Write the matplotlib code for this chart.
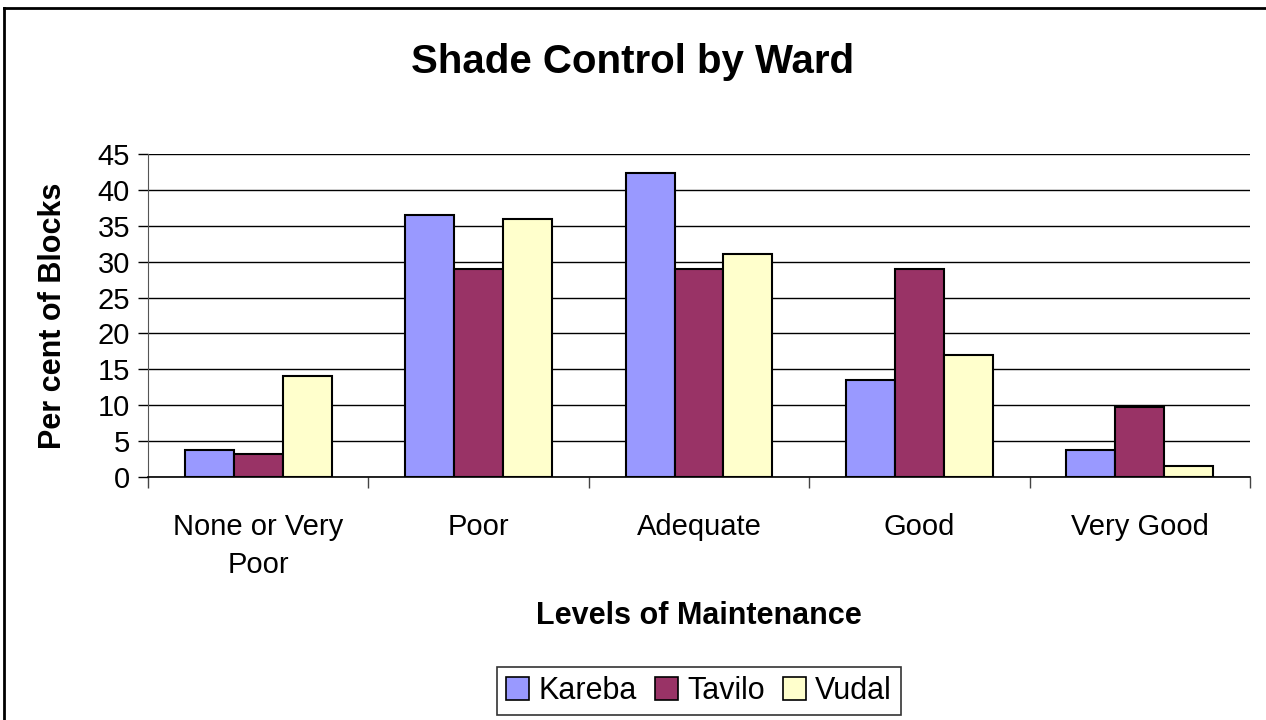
#!/usr/bin/env python3
import numpy as np
import matplotlib
matplotlib.use('Agg')
import matplotlib.pyplot as plt
from matplotlib.lines import Line2D
from matplotlib.patches import Patch

categories = ['None or Very\nPoor', 'Poor', 'Adequate', 'Good', 'Very Good']
wards = ['Kareba', 'Tavilo', 'Vudal']
kareba = [3.7, 36.5, 42.3, 13.5, 3.7]
tavilo = [3.2, 29.0, 29.0, 29.0, 9.7]
vudal = [14.1, 36.0, 31.1, 17.0, 1.6]
colors = ['#9999FF', '#993366', '#FFFFCC']

plt.rcParams['font.family'] = ['Liberation Sans', 'DejaVu Sans']

fig = plt.figure(figsize=(12.66, 7.2), dpi=100)
ax = fig.add_axes([148 / 1266, 1 - 477 / 720, (1250 - 148) / 1266, (477 - 154) / 720])

x = np.arange(len(categories))
w = 0.222
for i, (vals, col, name) in enumerate(zip([kareba, tavilo, vudal], colors, wards)):
    ax.bar(x + (i - 1) * w, vals, w, color=col, edgecolor='black', linewidth=1.5,
           label=name, zorder=3)

ax.set_xlim(-0.5, len(categories) - 0.5)
ax.set_ylim(0, 45)
ax.set_yticks(range(0, 46, 5))
ax.yaxis.grid(True, color='black', linewidth=1.0, zorder=0)
ax.tick_params(axis='y', labelsize=21, length=7, width=1, pad=6, direction='out')

ax.set_xticks(x)
ax.set_xticklabels(categories, fontsize=21, linespacing=1.45)
ax.set_xticks(np.arange(-0.5, len(categories)), minor=True)
ax.tick_params(axis='x', which='major', length=0, pad=26)
ax.tick_params(axis='x', which='minor', length=8, width=1, direction='out', color='#444444')

for s in ['top', 'right']:
    ax.spines[s].set_visible(False)
ax.spines['left'].set_color('#555555')
ax.spines['bottom'].set_color('black')
ax.spines['bottom'].set_linewidth(1.2)

ax.set_ylabel('Per cent of Blocks', fontsize=22, fontweight='bold', labelpad=21)
ax.set_xlabel('Levels of Maintenance', fontsize=22, fontweight='bold', labelpad=16)

fig.text(0.5, 1 - 62 / 720, 'Shade Control by Ward', fontsize=29, fontweight='bold',
         ha='center', va='center')

handles = [Patch(facecolor=c, edgecolor='black', linewidth=1.2, label=n)
           for c, n in zip(colors, wards)]
leg = fig.legend(handles=handles, loc='center', bbox_to_anchor=(699 / 1266, 1 - 691 / 720),
                 ncol=3, fontsize=22, frameon=True, fancybox=False, edgecolor='black',
                 handlelength=0.75, handleheight=0.75, handletextpad=0.3, columnspacing=0.6,
                 borderpad=0.3)
leg.get_frame().set_linewidth(1.2)

# outer chart border (only top and left edges visible in the crop)
fig.add_artist(Line2D([4 / 1266, 1], [1 - 8 / 720, 1 - 8 / 720], color='black', linewidth=2))
fig.add_artist(Line2D([4 / 1266, 4 / 1266], [0, 1 - 8 / 720], color='black', linewidth=2))

fig.savefig('out.png', dpi=100)
